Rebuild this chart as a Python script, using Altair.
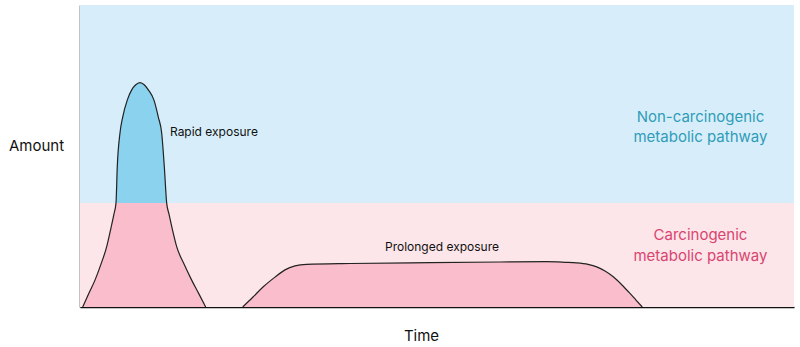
import altair as alt
import pandas as pd

# ---- data ----
THRESHOLD = 34.4

rapid_x = [0.38, 1.26, 2.10, 2.94, 3.74, 4.34, 4.76, 5.04, 5.22, 5.60, 5.98, 6.62, 7.24, 7.77, 8.40,
           9.03, 9.57, 10.36, 10.97, 11.44, 11.81, 12.14, 12.46, 12.89, 13.54, 14.57, 15.64, 16.60, 17.61]
rapid_y = [0, 4.6, 8.9, 14.2, 20.0, 26.2, 30.8, 34.4, 46.4, 57.6, 62.9, 68.5, 71.9, 73.5, 74.3,
           73.5, 71.9, 68.5, 62.9, 57.6, 46.4, 34.4, 30.8, 26.2, 20.0, 14.2, 8.9, 4.6, 0]

prolonged_x = [22.79, 24.23, 25.67, 27.31, 28.71, 30.11, 31.75, 37.82, 49.02, 58.82, 65.36, 67.93,
               69.57, 71.15, 72.37, 73.53, 74.69, 75.91, 77.03, 77.87, 78.75]
prolonged_y = [0, 3.3, 6.7, 9.9, 12.3, 13.6, 14.1, 14.4, 14.7, 14.9, 15.0, 14.8,
               14.6, 14.1, 13.3, 11.9, 10.0, 7.3, 4.5, 2.3, 0]

band_names = ["Non-carcinogenic", "Carcinogenic"]
band_lo = [THRESHOLD, 0]
band_hi = [100, THRESHOLD]
band_colors = ["#d7eefa", "#fde6ea"]

label_text = ["Rapid exposure", "Prolonged exposure"]
label_x = [12.6, 50.7]
label_y = [57.9, 19.8]
label_align = ["left", "center"]

path_text = ["Non-carcinogenic", "metabolic pathway", "Carcinogenic", "metabolic pathway"]
path_x = [86.9, 86.9, 86.9, 86.9]
path_y = [63.0, 56.4, 23.8, 17.0]
path_group = ["non", "non", "car", "car"]

# ---- tables ----
rows = []
for s, xs, ys in [("rapid", rapid_x, rapid_y), ("prolonged", prolonged_x, prolonged_y)]:
    for i, (a, b) in enumerate(zip(xs, ys)):
        rows.append({"series": s, "order": i, "x": a, "y": b,
                     "ylow": min(b, THRESHOLD), "yhigh": max(b, THRESHOLD),
                     "thr": THRESHOLD})
curves = pd.DataFrame(rows)
bands = pd.DataFrame({"band": band_names, "lo": band_lo, "hi": band_hi, "x0": [0, 0], "x1": [100, 100]})
labels = pd.DataFrame({"text": label_text, "x": label_x, "y": label_y, "align": label_align})
paths = pd.DataFrame({"text": path_text, "x": path_x, "y": path_y, "group": path_group})

FONT = "Inter"
xscale = alt.Scale(domain=[0, 100], nice=False, zero=False)
yscale = alt.Scale(domain=[0, 100], nice=False, zero=False)
xaxis = alt.Axis(title="Time", ticks=False, labels=False, grid=False, domainColor="#111",
                 domainWidth=1.5, titleFont=FONT, titleFontSize=15, titleFontWeight="normal",
                 titleColor="#111", titleX=341, titleY=28, titleBaseline="middle", titleAlign="center")
yaxis = alt.Axis(title="Amount", ticks=False, labels=False, grid=False, domainColor="#111",
                 domainWidth=1.5, titleFont=FONT, titleFontSize=15, titleFontWeight="normal",
                 titleColor="#111", titleAngle=0, titleX=-44, titleY=140, titleBaseline="middle",
                 titleAlign="center")

X = lambda f: alt.X(f, scale=xscale, title="Time")
Y = lambda f: alt.Y(f, scale=yscale, title="Amount", stack=None)

bg = alt.Chart(bands).mark_rect().encode(
    x=alt.X("x0:Q", scale=xscale, axis=xaxis, title="Time"),
    x2="x1:Q",
    y=alt.Y("lo:Q", scale=yscale, axis=yaxis, title="Amount"),
    y2="hi:Q",
    color=alt.Color("band:N", scale=alt.Scale(domain=band_names, range=band_colors), legend=None),
)

pink = alt.Chart(curves).mark_area(interpolate="monotone", color="#f9bdcc", opacity=1).encode(
    x=X("x:Q"), y=Y("ylow:Q"), detail="series:N",
)

blue = alt.Chart(curves).transform_filter(alt.datum.series == "rapid").mark_area(
    interpolate="monotone", color="#8bd2ef", opacity=1).encode(
    x=X("x:Q"), y=Y("yhigh:Q"), y2="thr:Q",
)

outline = alt.Chart(curves).mark_line(interpolate="monotone", color="#222", strokeWidth=1.2).encode(
    x=X("x:Q"), y=Y("y:Q"), detail="series:N", order="order:Q",
)

lab_left = alt.Chart(labels).transform_filter(alt.datum.align == "left").mark_text(
    font=FONT, fontSize=12, color="#111", baseline="middle", align="left").encode(
    x=X("x:Q"), y=Y("y:Q"), text="text:N",
)
lab_center = alt.Chart(labels).transform_filter(alt.datum.align == "center").mark_text(
    font=FONT, fontSize=12, color="#111", baseline="middle", align="center").encode(
    x=X("x:Q"), y=Y("y:Q"), text="text:N",
)

pathlab = alt.Chart(paths).mark_text(font=FONT, fontSize=15, baseline="middle", align="center").encode(
    x=X("x:Q"), y=Y("y:Q"), text="text:N",
    color=alt.Color("group:N", scale=alt.Scale(domain=["non", "car"], range=["#2f9cb8", "#d9446f"]),
                    legend=None),
)

chart = alt.layer(bg, pink, blue, outline, lab_left, lab_center, pathlab).resolve_scale(
    color="independent").properties(
    width=714, height=302,
    autosize=alt.AutoSizeParams(type="none"),
    padding={"left": 80, "top": 5, "right": 6, "bottom": 40},
).configure_view(stroke=None)

chart.save("out.html", embed_options={"renderer": "svg", "actions": False})
